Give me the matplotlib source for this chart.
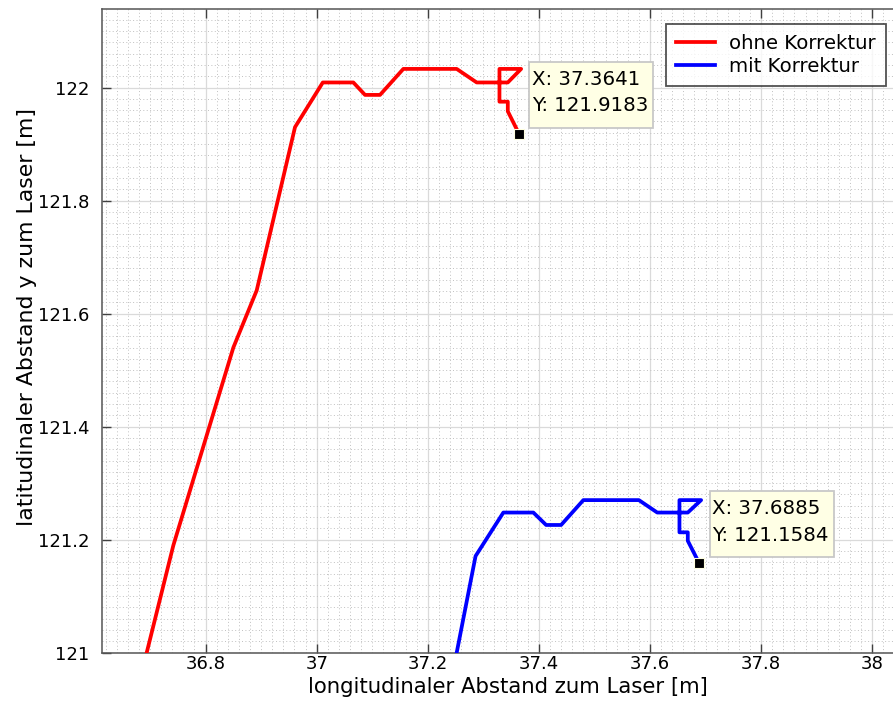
import numpy as np
from matplotlib import pyplot as plt
from matplotlib.ticker import MultipleLocator, FixedLocator
from matplotlib.patches import Rectangle
from matplotlib.transforms import Affine2D, ScaledTranslation

# (metres)
x_ohne = [36.694, 36.742, 36.850, 36.892, 36.961, 37.011, 37.066, 37.087, 37.114,
          37.156, 37.252, 37.288, 37.344, 37.368, 37.329, 37.329, 37.344, 37.344, 37.3641]
y_ohne = [121.000, 121.190, 121.540, 121.641, 121.930, 122.009, 122.009, 121.987, 121.987,
          122.033, 122.033, 122.009, 122.009, 122.033, 122.033, 121.975, 121.975, 121.958, 121.9183]

x_mit = [37.252, 37.286, 37.336, 37.390, 37.413, 37.440, 37.480, 37.580, 37.613,
         37.668, 37.692, 37.653, 37.653, 37.668, 37.668, 37.6885]
y_mit = [121.000, 121.171, 121.248, 121.248, 121.226, 121.226, 121.270, 121.270, 121.248,
         121.248, 121.270, 121.270, 121.213, 121.213, 121.198, 121.1584]

x_ticks = [36.8, 37.0, 37.2, 37.4, 37.6, 37.8, 38.0]
x_ticklabels = ["36.8", "37", "37.2", "37.4", "37.6", "37.8", "38"]
y_ticks = [121.0, 121.2, 121.4, 121.6, 121.8, 122.0]
y_ticklabels = ["121", "121.2", "121.4", "121.6", "121.8", "122"]

FS = 14.2
FS_LABEL = 15.3

fig = plt.figure(figsize=(8.93, 7.02), dpi=100)
AX_R = 915
ax = fig.add_axes([101.7 / 893, 49.3 / 702, (AX_R - 101.7) / 893, 643.7 / 702])
axw = AX_R - 101.7

ax.plot(x_ohne, y_ohne, color="#ff0000", lw=2.7, label="ohne Korrektur", zorder=3)
ax.plot(x_mit, y_mit, color="#0000ff", lw=2.7, label="mit Korrektur", zorder=3)

# data tips (box in pixels, anchored to the data point)
for xp, yp in [(x_ohne[-1], y_ohne[-1]), (x_mit[-1], y_mit[-1])]:
    ax.plot(xp, yp, "s", ms=7, mfc="black", mec="#ffffe0", mew=0.8, zorder=5)
    tr = Affine2D() + ScaledTranslation(xp, yp, ax.transData)
    ax.add_patch(Rectangle((10.5, 5.7), 124, 66, transform=tr, fc="#ffffe5",
                           ec="#c8c8c8", lw=1.3, zorder=6, clip_on=False))
    ax.text(13, 64, "X: %.4f\nY: %.4f" % (xp, yp), transform=tr, ha="left", va="top",
            fontsize=FS, linespacing=1.5, zorder=7)

ax.set_xlim(36.613, 38.077)
ax.set_ylim(121.0, 122.139)

ax.xaxis.set_major_locator(FixedLocator(x_ticks))
ax.set_xticklabels(x_ticklabels)
ax.yaxis.set_major_locator(FixedLocator(y_ticks))
ax.set_yticklabels(y_ticklabels)
ax.xaxis.set_minor_locator(MultipleLocator(0.02))
ax.yaxis.set_minor_locator(MultipleLocator(0.02))

ax.tick_params(which="major", direction="in", length=6.5, width=1, color="#404040",
               top=True, right=True, labelsize=13)
ax.tick_params(which="minor", length=0, top=True, right=True)
ax.tick_params(axis="x", pad=2)
ax.tick_params(axis="y", pad=9)

ax.grid(which="major", color="#dadada", lw=0.9, ls="-")
ax.grid(which="minor", color="#c0c0c0", lw=0.7, ls=(0, (1, 2.5)))
ax.set_axisbelow(True)
for s in ax.spines.values():
    s.set_color("#555555")
    s.set_linewidth(1.1)

ax.set_xlabel("longitudinaler Abstand zum Laser [m]", fontsize=FS_LABEL)
ax.set_ylabel("latitudinaler Abstand y zum Laser [m]", fontsize=FS_LABEL + 0.5)
ax.xaxis.set_label_coords((508 - 101.7) / axw, -(677.2 - 652.7) / 643.7)
ax.yaxis.set_label_coords(-(101.7 - 37) / axw, (652.7 - 317) / 643.7)

leg = ax.legend(loc="upper left", bbox_to_anchor=((666 - 101.7) / axw, (652.7 - 24) / 643.7),
                fontsize=FS, frameon=True, fancybox=False, handlelength=2.0,
                borderpad=0.5, labelspacing=0.2, handletextpad=0.7, borderaxespad=0)
leg.get_frame().set_edgecolor("#262626")
leg.get_frame().set_linewidth(1.3)
for h in leg.get_lines():
    h.set_linewidth(2.7)

fig.savefig("out.png", dpi=100)
